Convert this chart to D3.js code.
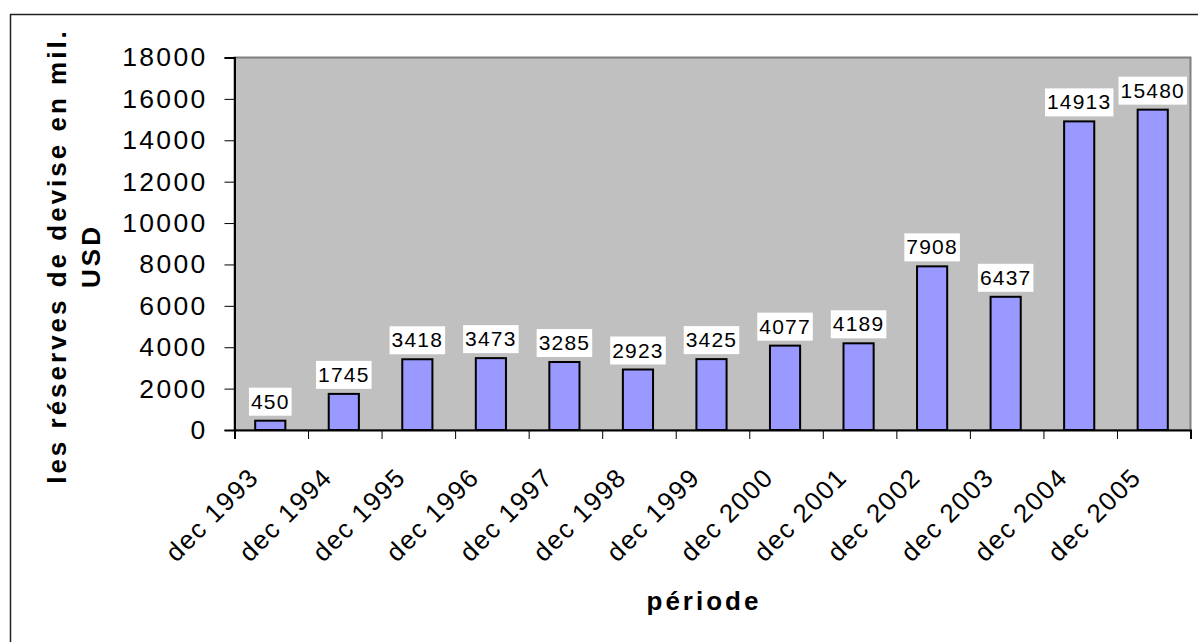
<!DOCTYPE html>
<html>
<head>
<meta charset="utf-8">
<script src="https://cdn.jsdelivr.net/npm/d3@7"></script>
<style>
  body { margin: 0; background: #fff; }
  text { font-family: "Liberation Sans", Arial, sans-serif; fill: #000; }
</style>
</head>
<body>
<div id="chart"></div>
<script>
const periods = ["dec 1993", "dec 1994", "dec 1995", "dec 1996", "dec 1997", "dec 1998", "dec 1999",
                 "dec 2000", "dec 2001", "dec 2002", "dec 2003", "dec 2004", "dec 2005"];
const reserves = [450, 1745, 3418, 3473, 3285, 2923, 3425, 4077, 4189, 7908, 6437, 14913, 15480];
const yTicks = [0, 2000, 4000, 6000, 8000, 10000, 12000, 14000, 16000, 18000];

const data = periods.map((p, i) => ({ period: p, value: reserves[i] }));

// plot area
const margin = { top: 57.5, left: 234.5 };
const width = 956;
const height = 372.5;

const svg = d3.select("#chart").append("svg")
    .attr("width", 1198)
    .attr("height", 642);

// outer chart border
svg.append("rect")
    .attr("x", 10.5).attr("y", 14.5)
    .attr("width", 1200).attr("height", 640)
    .attr("fill", "none")
    .attr("stroke", "#222")
    .attr("stroke-width", 1.5);

const g = svg.append("g")
    .attr("transform", `translate(${margin.left}, ${margin.top})`);

const xScale = d3.scaleBand()
    .domain(periods)
    .range([0, width]);

const yScale = d3.scaleLinear()
    .domain([0, 18000])
    .range([height, 0]);

// gray plot background + border
g.append("rect")
    .attr("width", width)
    .attr("height", height)
    .attr("fill", "#c0c0c0")
    .attr("stroke", "#808080")
    .attr("stroke-width", 2);

// bars
const barW = xScale.bandwidth() * 0.41;
g.selectAll(".bar")
    .data(data)
    .enter().append("rect")
    .attr("class", "bar")
    .attr("x", d => xScale(d.period) + (xScale.bandwidth() - barW) / 2 - 1)
    .attr("y", d => yScale(d.value))
    .attr("width", barW)
    .attr("height", d => height - yScale(d.value))
    .attr("fill", "#9999ff")
    .attr("stroke", "#000")
    .attr("stroke-width", 2);

// Y axis
const yAxis = g.append("g")
    .call(d3.axisLeft(yScale).tickValues(yTicks).tickFormat(d3.format("d")).tickSize(10).tickPadding(17));
yAxis.select(".domain").attr("stroke", "#000").attr("stroke-width", 2);
yAxis.selectAll("text")
    .style("font-size", "26.5px")
    .style("letter-spacing", "2.3px");

// X axis: tick marks at category boundaries
const xEdge = d3.scaleLinear().domain([0, periods.length]).range([0, width]);
const xAxisTicks = g.append("g")
    .attr("transform", `translate(0, ${height})`)
    .call(d3.axisBottom(xEdge).tickValues(d3.range(periods.length + 1)).tickSize(9).tickFormat(""));
xAxisTicks.select(".domain").attr("stroke", "#000").attr("stroke-width", 2);

// X axis labels, rotated
const xAxisLabels = g.append("g")
    .attr("transform", `translate(0, ${height})`)
    .call(d3.axisBottom(xScale).tickSize(0).tickPadding(0));
xAxisLabels.select(".domain").remove();
xAxisLabels.selectAll("text")
    .attr("dy", null)
    .attr("y", null)
    .attr("transform", "translate(-11, 49) rotate(-45)")
    .style("text-anchor", "end")
    .style("font-size", "26px")
    .style("letter-spacing", "1.5px");

// data labels with white boxes
const labels = g.selectAll(".lbl")
    .data(data)
    .enter().append("g")
    .attr("class", "lbl");

labels.append("text")
    .attr("x", d => xScale(d.period) + xScale.bandwidth() / 2 - 1)
    .attr("y", d => yScale(d.value) - 12)
    .style("text-anchor", "middle")
    .style("font-size", "21px")
    .style("letter-spacing", "1.2px")
    .text(d => d.value);

labels.each(function(d) {
    const grp = d3.select(this);
    const bb = grp.select("text").node().getBBox();
    grp.insert("rect", "text")
        .attr("x", bb.x - 2)
        .attr("y", yScale(d.value) - 33)
        .attr("width", bb.width + 4)
        .attr("height", 28)
        .attr("fill", "#fff");
});

// axis titles
svg.append("text")
    .attr("x", 704)
    .attr("y", 610)
    .style("text-anchor", "middle")
    .style("font-size", "26px")
    .style("font-weight", "bold")
    .style("letter-spacing", "3px")
    .text("période");

const yTitle = svg.append("text")
    .attr("transform", "translate(0, 256) rotate(-90)")
    .style("text-anchor", "middle")
    .style("font-size", "26px")
    .style("font-weight", "bold")
    .style("letter-spacing", "3px");
yTitle.append("tspan").attr("x", 0).attr("y", 66).text("les réserves de devise en mil.");
yTitle.append("tspan").attr("x", 0).attr("y", 100).text("USD");
</script>
</body>
</html>
